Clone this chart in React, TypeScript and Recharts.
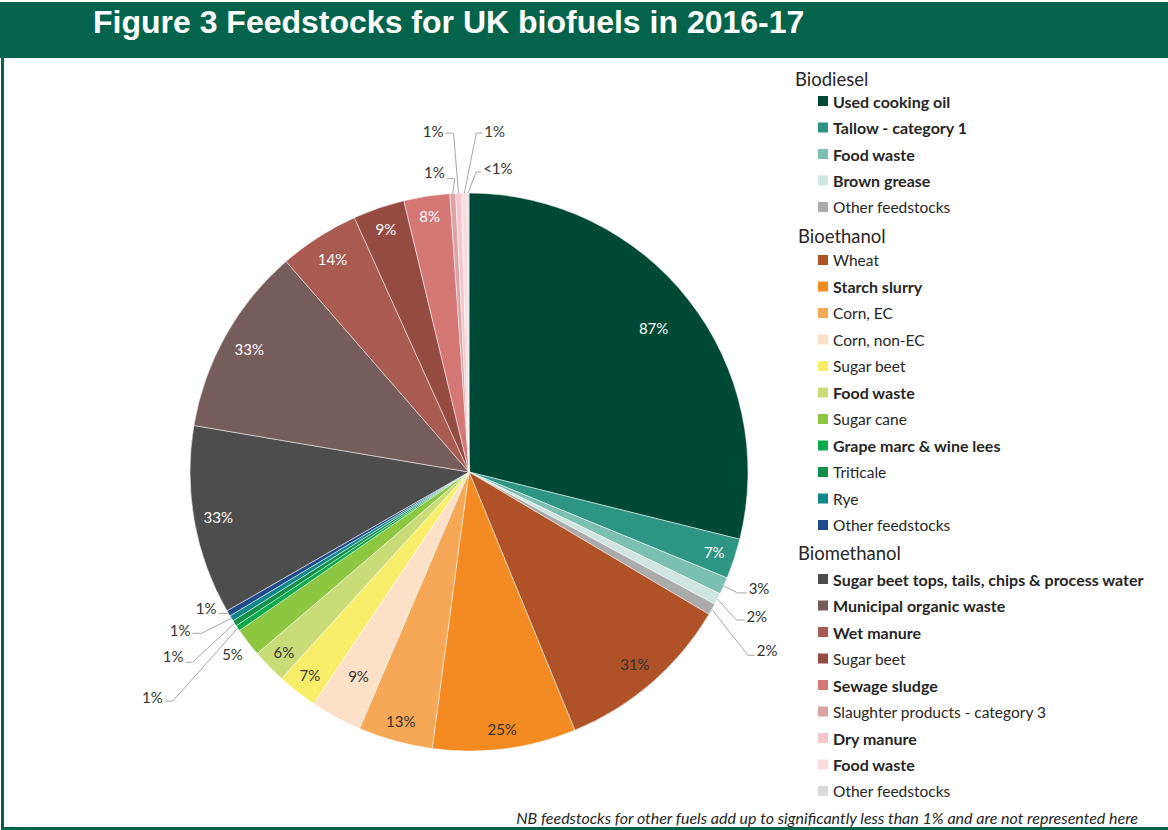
import React from 'react';
import { PieChart, Pie, Cell } from 'recharts';

// ---------- data (shares within each fuel, %) ----------
const fuelGroups = ['Biodiesel', 'Bioethanol', 'Biomethanol'];

const biodieselFeedstocks = ['Used cooking oil', 'Tallow - category 1', 'Food waste', 'Brown grease', 'Other feedstocks'];
const biodieselShares = [87, 7, 3, 2, 2];

const bioethanolFeedstocks = ['Wheat', 'Starch slurry', 'Corn, EC', 'Corn, non-EC', 'Sugar beet', 'Food waste', 'Sugar cane', 'Grape marc & wine lees', 'Triticale', 'Rye', 'Other feedstocks'];
const bioethanolShares = [31, 25, 13, 9, 7, 6, 5, 1, 1, 1, 1];

const biomethanolFeedstocks = ['Sugar beet tops, tails, chips & process water', 'Municipal organic waste', 'Wet manure', 'Sugar beet', 'Sewage sludge', 'Slaughter products - category 3', 'Dry manure', 'Food waste', 'Other feedstocks'];
const biomethanolShares = [33, 33, 14, 9, 8, 1, 1, 1, 0.3];

const titleText = 'Figure 3 Feedstocks for UK biofuels in 2016-17';
const footnoteText = 'NB feedstocks for other fuels add up to significantly less than 1% and are not represented here';

// ---------- styles ----------
const biodieselColors = ['#004A35', '#2E9483', '#7BBFB1', '#CFE5E0', '#ABABAB'];
const bioethanolColors = ['#AF5227', '#F48A22', '#F7A857', '#FCE0C8', '#F8EE6A', '#C9DC78', '#8DC641', '#0BAA4B', '#129048', '#10888B', '#1F4A8C'];
const biomethanolColors = ['#4D4D4D', '#775C5C', '#A95B52', '#954A42', '#D57775', '#D9A3A8', '#F6C5CB', '#FADDE0', '#D9D9D9'];

const biodieselBold = [true, true, true, true, false];
const bioethanolBold = [false, true, false, false, false, true, false, true, false, false, false];
const biomethanolBold = [true, true, true, false, true, false, true, true, false];

const GREEN = '#03644B';
const LABEL_FONT = 'Lato, "Open Sans", sans-serif';
const DARK = '#333333';
const LEADER = '#A6A6A6';

type Spec =
  | { mode: 'in'; f: number; color: string }
  | { mode: 'out'; elbow: [number, number]; tail: number; dy: number };

const labelSpecs: Spec[] = [
  // biodiesel
  { mode: 'in', f: 0.84, color: '#fff' },
  { mode: 'in', f: 0.925, color: '#fff' },
  { mode: 'out', elbow: [14, 7], tail: 9, dy: -5 },
  { mode: 'out', elbow: [19, 21], tail: 8, dy: -4 },
  { mode: 'out', elbow: [36, 46], tail: 7, dy: -5 },
  // bioethanol
  { mode: 'in', f: 0.91, color: DARK },
  { mode: 'in', f: 0.93, color: DARK },
  { mode: 'in', f: 0.924, color: DARK },
  { mode: 'in', f: 0.83, color: DARK },
  { mode: 'in', f: 0.925, color: DARK },
  { mode: 'in', f: 0.925, color: DARK },
  { mode: 'in', f: 1.07, color: DARK },
  { mode: 'out', elbow: [-65, 73], tail: -8, dy: -4 },
  { mode: 'out', elbow: [-42, 39], tail: -7, dy: -6 },
  { mode: 'out', elbow: [-30, 15], tail: -9, dy: -3 },
  { mode: 'out', elbow: [0, 0], tail: -10, dy: -5 },
  // biomethanol
  { mode: 'in', f: 0.913, color: '#fff' },
  { mode: 'in', f: 0.903, color: '#fff' },
  { mode: 'in', f: 0.907, color: '#fff' },
  { mode: 'in', f: 0.92, color: '#fff' },
  { mode: 'in', f: 0.93, color: '#fff' },
  { mode: 'out', elbow: [2, -15], tail: -8, dy: -6 },
  { mode: 'out', elbow: [-5, -60], tail: -8, dy: -2 },
  { mode: 'out', elbow: [12, -60], tail: 6, dy: -2 },
  { mode: 'out', elbow: [8, -21], tail: 5, dy: -4 },
];

// ---------- build table ----------
const groups = [
  { name: fuelGroups[0], items: biodieselFeedstocks, values: biodieselShares, colors: biodieselColors, bold: biodieselBold },
  { name: fuelGroups[1], items: bioethanolFeedstocks, values: bioethanolShares, colors: bioethanolColors, bold: bioethanolBold },
  { name: fuelGroups[2], items: biomethanolFeedstocks, values: biomethanolShares, colors: biomethanolColors, bold: biomethanolBold },
];

const pieData = groups.flatMap((g) => g.items.map((n, i) => ({ name: `${g.name}: ${n}`, value: g.values[i] })));
const pieColors = groups.flatMap((g) => g.colors);

const RAD = Math.PI / 180;

function renderLabel(props: any) {
  const { cx, cy, midAngle, outerRadius, index } = props;
  const v = props.value ?? props.payload?.value;
  const spec = labelSpecs[index];
  if (!spec) return null;
  const text = v < 1 ? '<1%' : `${v}%`;
  const c = Math.cos(-midAngle * RAD);
  const s = Math.sin(-midAngle * RAD);
  if (spec.mode === 'in') {
    const r = outerRadius * spec.f;
    return (
      <text
        key={`lbl-${index}`}
        x={cx + r * c}
        y={cy + r * s}
        textAnchor="middle"
        dominantBaseline="central"
        fill={spec.color}
        fontSize={15}
        fontFamily={LABEL_FONT}
      >
        {text}
      </text>
    );
  }
  const ex = cx + outerRadius * c;
  const ey = cy + outerRadius * s;
  const bx = ex + spec.elbow[0];
  const by = ey + spec.elbow[1];
  const tx = bx + spec.tail;
  const right = spec.tail > 0;
  return (
    <g key={`lbl-${index}`}>
      <polyline points={`${ex},${ey} ${bx},${by} ${tx},${by}`} fill="none" stroke={LEADER} strokeWidth={1} />
      <text
        x={tx + (right ? 2 : -2)}
        y={by + spec.dy}
        textAnchor={right ? 'start' : 'end'}
        dominantBaseline="central"
        fill={DARK}
        fontSize={15}
        fontFamily={LABEL_FONT}
      >
        {text}
      </text>
    </g>
  );
}

// ---------- legend layout ----------
const legendHeaderY = [79, 236, 553];
const legendHeaderX = [795, 798, 798];
const legendFirstRowY = [101, 260, 579];
const legendStep = 26.5;

function Legend() {
  const out: React.ReactNode[] = [];
  groups.forEach((g, gi) => {
    out.push(
      <text key={`h${gi}`} x={legendHeaderX[gi]} y={legendHeaderY[gi]} dominantBaseline="central" fontSize={18.5} fontFamily={LABEL_FONT} fill="#262626">
        {g.name}
      </text>
    );
    g.items.forEach((n, i) => {
      const y = legendFirstRowY[gi] + i * legendStep;
      out.push(
        <g key={`r${gi}-${i}`}>
          <rect x={818} y={y - 5} width={10} height={10} fill={g.colors[i]} />
          <text
            x={833}
            y={y}
            dominantBaseline="central"
            fontSize={g.bold[i] ? 16 : 15.5}
            fontWeight={g.bold[i] ? 700 : 400}
            fontFamily={LABEL_FONT}
            fill="#262626"
          >
            {n}
          </text>
        </g>
      );
    });
  });
  return <>{out}</>;
}

export default function App() {
  return (
    <div style={{ position: 'absolute', left: 0, top: 0, width: 1168, height: 830, background: '#fff', overflow: 'hidden' }}>
      <div style={{ position: 'absolute', left: 0, top: 0 }}>
        <PieChart width={1168} height={830} margin={{ top: 0, right: 0, bottom: 0, left: 0 }}>
          <Pie
            data={pieData}
            dataKey="value"
            nameKey="name"
            cx={469}
            cy={472}
            outerRadius={279}
            startAngle={90}
            endAngle={-270}
            stroke="#ffffff"
            strokeWidth={0.5}
            label={renderLabel}
            labelLine={false}
            isAnimationActive={false}
          >
            {pieData.map((d, i) => (
              <Cell key={d.name + i} fill={pieColors[i]} />
            ))}
          </Pie>
        </PieChart>
      </div>
      <svg width={1168} height={830} style={{ position: 'absolute', left: 0, top: 0, pointerEvents: 'none' }}>
        <rect x={0} y={2} width={1168} height={56} fill={GREEN} />
        <rect x={1} y={58} width={3} height={772} fill={GREEN} />
        <rect x={1} y={827} width={1167} height={3} fill={GREEN} />
        <text x={93} y={33} fontFamily='"Liberation Sans", Arial, sans-serif' fontWeight={700} fontSize={32} fill="#ffffff">
          {titleText}
        </text>
        <Legend />
        <text x={1138} y={817} textAnchor="end" dominantBaseline="central" fontStyle="italic" fontSize={16} fontFamily={LABEL_FONT} fill="#262626">
          {footnoteText}
        </text>
      </svg>
    </div>
  );
}
